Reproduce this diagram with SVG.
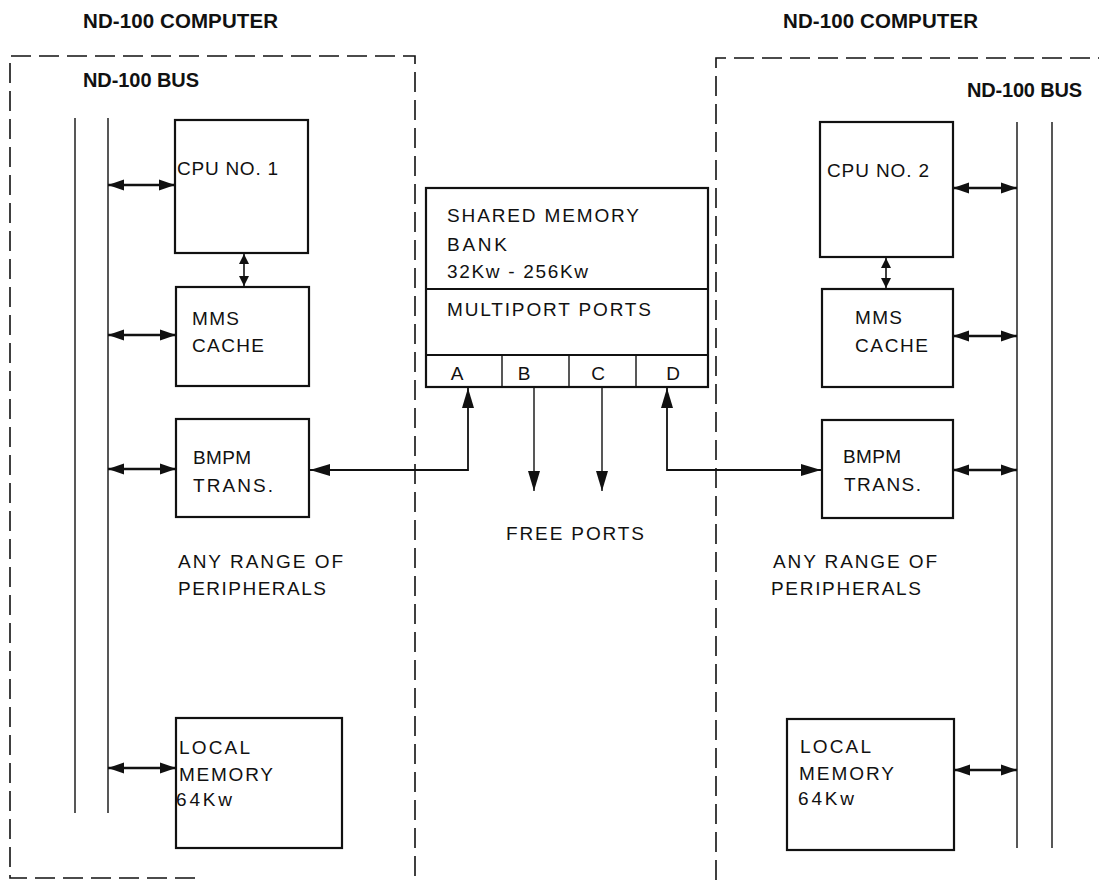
<svg xmlns="http://www.w3.org/2000/svg" width="1099" height="880" viewBox="0 0 1099 880">
<style>
.t{font-family:"Liberation Sans",Arial,sans-serif;font-size:19px;fill:#111}
.h{font-family:"Liberation Sans",Arial,sans-serif;font-weight:bold;fill:#111}
.box{fill:none;stroke:#111;stroke-width:2.2}
.bus{fill:none;stroke:#111;stroke-width:1.4}
.dash{fill:none;stroke:#111;stroke-width:1.6;stroke-dasharray:20 8}
.ba{fill:none;stroke:#111;stroke-width:2.6;marker-start:url(#ah);marker-end:url(#ah)}
.va{fill:none;stroke:#111;stroke-width:1.6;marker-start:url(#sm);marker-end:url(#sm)}
.pa{fill:none;stroke:#111;stroke-width:1.8;marker-start:url(#pt);marker-end:url(#pt)}
.pd{fill:none;stroke:#111;stroke-width:1.4;marker-end:url(#pt)}
</style>
<defs>
<marker id="ah" markerUnits="userSpaceOnUse" markerWidth="18" markerHeight="12" refX="16" refY="6" orient="auto-start-reverse"><path d="M0,0.5 L16,6 L0,11.5 z" fill="#111"/></marker>
<marker id="sm" markerUnits="userSpaceOnUse" markerWidth="11" markerHeight="10" refX="10" refY="5" orient="auto-start-reverse"><path d="M0,0 L10,5 L0,10 z" fill="#111"/></marker>
<marker id="pt" markerUnits="userSpaceOnUse" markerWidth="21" markerHeight="12" refX="20" refY="6" orient="auto-start-reverse"><path d="M0,0 L20,6 L0,12 z" fill="#111"/></marker>
</defs>
<rect width="1099" height="880" fill="#fff"/>

<g id="left-computer">
<text class="h" x="83" y="28" font-size="20.5" textLength="195" lengthAdjust="spacing">ND-100 COMPUTER</text>
<path class="dash" d="M195,878 H10 V56 H415 V880"/>
<text class="h" x="83" y="87" font-size="20" textLength="116" lengthAdjust="spacing">ND-100 BUS</text>
<line class="bus" x1="75" y1="118" x2="75" y2="813"/>
<line class="bus" x1="108" y1="118" x2="108" y2="813"/>
<text class="t" x="178" y="568" textLength="165" lengthAdjust="spacing">ANY RANGE OF</text>
<text class="t" x="178" y="595" textLength="148" lengthAdjust="spacing">PERIPHERALS</text>
</g>

<g id="cpu1">
<rect class="box" x="175" y="120" width="133" height="133"/>
<text class="t" x="177" y="175" textLength="101" lengthAdjust="spacing">CPU NO. 1</text>
</g>
<g id="mms1">
<rect class="box" x="176" y="287" width="133" height="99"/>
<text class="t" x="192" y="325" textLength="47" lengthAdjust="spacing">MMS</text>
<text class="t" x="192" y="352" textLength="72" lengthAdjust="spacing">CACHE</text>
</g>
<g id="bmpm1">
<rect class="box" x="176" y="419" width="133" height="98"/>
<text class="t" x="193" y="464" textLength="58" lengthAdjust="spacing">BMPM</text>
<text class="t" x="193" y="492" textLength="80" lengthAdjust="spacing">TRANS.</text>
</g>
<g id="local1">
<rect class="box" x="176" y="718" width="166" height="130"/>
<text class="t" x="179" y="754" textLength="71" lengthAdjust="spacing">LOCAL</text>
<text class="t" x="179" y="781" textLength="94" lengthAdjust="spacing">MEMORY</text>
<text class="t" x="176" y="806" textLength="56" lengthAdjust="spacing">64Kw</text>
</g>

<g id="right-computer">
<text class="h" x="783" y="28" font-size="20.5" textLength="195" lengthAdjust="spacing">ND-100 COMPUTER</text>
<path class="dash" d="M716,880 V58 H1099"/>
<text class="h" x="967" y="97" font-size="20" textLength="115" lengthAdjust="spacing">ND-100 BUS</text>
<line class="bus" x1="1017" y1="122" x2="1017" y2="848"/>
<line class="bus" x1="1052" y1="122" x2="1052" y2="848"/>
<text class="t" x="773" y="568" textLength="164" lengthAdjust="spacing">ANY RANGE OF</text>
<text class="t" x="771" y="595" textLength="150" lengthAdjust="spacing">PERIPHERALS</text>
</g>

<g id="cpu2">
<rect class="box" x="820" y="122" width="133" height="135"/>
<text class="t" x="827" y="177" textLength="102" lengthAdjust="spacing">CPU NO. 2</text>
</g>
<g id="mms2">
<rect class="box" x="822" y="289" width="131" height="98"/>
<text class="t" x="855" y="324" textLength="47" lengthAdjust="spacing">MMS</text>
<text class="t" x="855" y="352" textLength="73" lengthAdjust="spacing">CACHE</text>
</g>
<g id="bmpm2">
<rect class="box" x="822" y="420" width="131" height="98"/>
<text class="t" x="843" y="463" textLength="58" lengthAdjust="spacing">BMPM</text>
<text class="t" x="844" y="491" textLength="77" lengthAdjust="spacing">TRANS.</text>
</g>
<g id="local2">
<rect class="box" x="787" y="719" width="167" height="131"/>
<text class="t" x="800" y="753" textLength="71" lengthAdjust="spacing">LOCAL</text>
<text class="t" x="799" y="780" textLength="95" lengthAdjust="spacing">MEMORY</text>
<text class="t" x="798" y="805" textLength="56" lengthAdjust="spacing">64Kw</text>
</g>

<g id="shared-memory">
<rect class="box" x="426" y="188" width="282" height="199"/>
<line class="box" x1="426" y1="289" x2="708" y2="289"/>
<line class="box" x1="426" y1="355" x2="708" y2="355"/>
<line class="bus" x1="502" y1="355" x2="502" y2="387"/>
<line class="bus" x1="569" y1="355" x2="569" y2="387"/>
<line class="bus" x1="636" y1="355" x2="636" y2="387"/>
<text class="t" x="447" y="222" textLength="192" lengthAdjust="spacing">SHARED MEMORY</text>
<text class="t" x="447" y="251" textLength="60" lengthAdjust="spacing">BANK</text>
<text class="t" x="447" y="278" textLength="141" lengthAdjust="spacing">32Kw - 256Kw</text>
<text class="t" x="447" y="316" textLength="204" lengthAdjust="spacing">MULTIPORT PORTS</text>
<text class="t" x="457" y="380" text-anchor="middle">A</text>
<text class="t" x="524" y="380" text-anchor="middle">B</text>
<text class="t" x="598" y="380" text-anchor="middle">C</text>
<text class="t" x="673" y="380" text-anchor="middle">D</text>
</g>

<text class="t" x="506" y="540" textLength="138" lengthAdjust="spacing">FREE PORTS</text>

<g id="connectors">
<line class="ba" x1="108" y1="185" x2="175" y2="185"/>
<line class="ba" x1="108" y1="335" x2="176" y2="335"/>
<line class="ba" x1="108" y1="469" x2="176" y2="469"/>
<line class="ba" x1="108" y1="768" x2="176" y2="768"/>
<line class="va" x1="244" y1="254" x2="244" y2="286"/>
<line class="ba" x1="953" y1="188" x2="1017" y2="188"/>
<line class="ba" x1="953" y1="336" x2="1017" y2="336"/>
<line class="ba" x1="953" y1="470" x2="1017" y2="470"/>
<line class="ba" x1="954" y1="770" x2="1017" y2="770"/>
<line class="va" x1="886" y1="258" x2="886" y2="288"/>
<polyline class="pa" points="310,470 468,470 468,388"/>
<polyline class="pa" points="667,388 667,470 821,470"/>
<line class="pd" x1="534" y1="388" x2="534" y2="491"/>
<line class="pd" x1="602" y1="388" x2="602" y2="491"/>
</g>
</svg>
